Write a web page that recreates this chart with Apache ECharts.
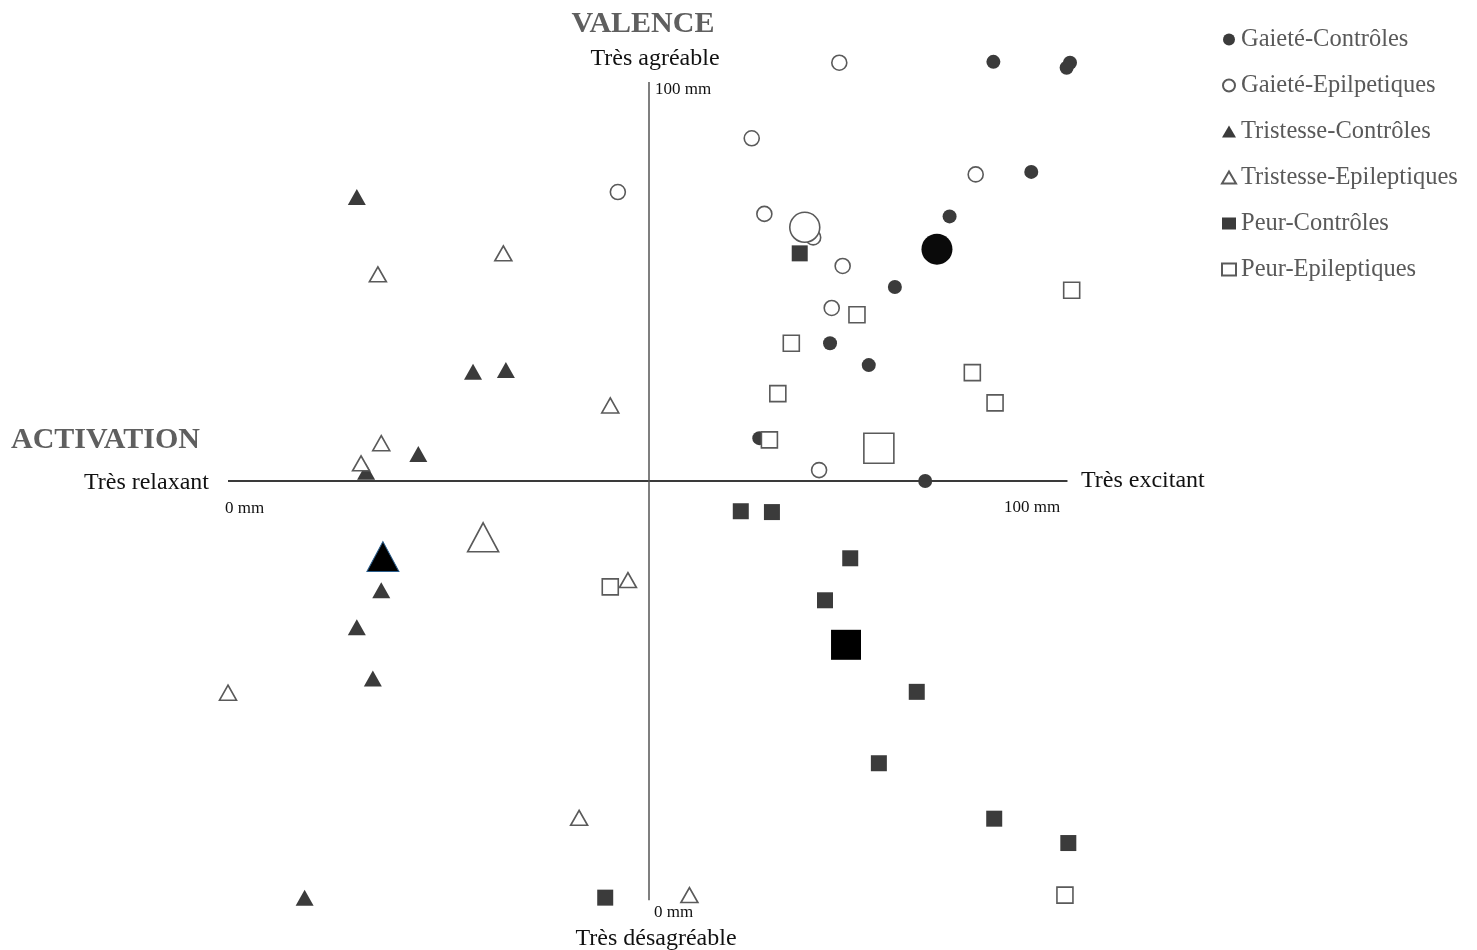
<!DOCTYPE html>
<html>
<head>
<meta charset="utf-8">
<title>Valence / Activation</title>
<script src="https://cdn.jsdelivr.net/npm/echarts@6/dist/echarts.min.js"></script>
<style>
    html, body { margin: 0; padding: 0; background: #fff; }
    #chart { width: 1477px; height: 950px; }
</style>
</head>
<body>
<div id="chart"></div>
<script>
// Activation (x, mm) and valence (y, mm) ratings per subject
const gaieteControlesX = [90.9, 100.0, 99.6, 95.4, 85.7, 79.2, 71.5, 76.1, 63.1, 82.8];
const gaieteControlesY = [99.9, 99.8, 99.2, 86.8, 81.5, 73.1, 66.4, 63.8, 55.1, 50.0];
const gaieteEpiX = [72.6, 62.2, 88.8, 46.3, 63.7, 69.5, 73.0, 71.7, 70.2];
const gaieteEpiY = [99.8, 90.8, 86.5, 84.4, 81.8, 79.0, 75.6, 70.6, 51.3];
const tristesseControlesX = [15.3, 29.1, 33.0, 22.6, 16.4, 18.2, 15.3, 17.2, 9.1];
const tristesseControlesY = [83.8, 63.0, 63.2, 53.2, 51.1, 37.0, 32.6, 26.5, 0.4];
const tristesseEpiX = [32.7, 17.8, 45.4, 18.2, 15.8, 47.5, 0.0, 41.7, 54.8];
const tristesseEpiY = [77.1, 74.6, 59.0, 54.5, 52.1, 38.2, 24.8, 9.9, 0.7];
const peurControlesX = [67.9, 60.9, 64.6, 73.9, 70.9, 81.8, 77.3, 91.0, 99.8, 44.8];
const peurControlesY = [77.1, 46.4, 46.3, 40.8, 35.8, 24.9, 16.4, 9.8, 6.9, 0.4];
const peurEpiX = [100.2, 74.7, 66.9, 88.4, 65.3, 91.1, 64.3, 45.4, 99.4];
const peurEpiY = [72.7, 69.8, 66.4, 62.9, 60.4, 59.3, 54.9, 37.4, 0.7];

// Group means [activation, valence]
const gaieteControlesMean = [84.2, 77.6];
const gaieteEpiMean = [68.5, 80.2];
const tristesseControlesMean = [18.4, 41.0];
const tristesseEpiMean = [30.3, 43.3];
const peurControlesMean = [73.4, 30.5];
const peurEpiMean = [77.3, 53.9];

const seriesNames = ['Gaieté-Contrôles', 'Gaieté-Epilpetiques', 'Tristesse-Contrôles',
    'Tristesse-Epileptiques', 'Peur-Contrôles', 'Peur-Epileptiques'];

const FONT = '"Liberation Serif", "Times New Roman", serif';
const DARK = '#3b3b3b';
const EDGE = '#5a5a5a';

function pairs(xs, ys) {
    return xs.map((x, i) => [x, ys[i]]);
}

// style for small and mean markers
function filled(symbol, size, color) {
    return { symbol: symbol, symbolSize: size, itemStyle: { color: color || DARK, opacity: 1 } };
}
function hollow(symbol, size) {
    return { symbol: symbol, symbolSize: size,
        itemStyle: { color: '#fff', borderColor: EDGE, borderWidth: 1.6, opacity: 1 } };
}

const groups = [
    { name: seriesNames[0], data: pairs(gaieteControlesX, gaieteControlesY), mean: gaieteControlesMean,
      small: filled('circle', 14), big: filled('circle', 31, '#0a0a0a') },
    { name: seriesNames[1], data: pairs(gaieteEpiX, gaieteEpiY), mean: gaieteEpiMean,
      small: hollow('circle', 15), big: hollow('circle', 30) },
    { name: seriesNames[2], data: pairs(tristesseControlesX, tristesseControlesY), mean: tristesseControlesMean,
      small: filled('triangle', [18, 16]),
      big: { symbol: 'triangle', symbolSize: [32, 30],
             itemStyle: { color: '#000', borderColor: '#2a5d8c', borderWidth: 1, opacity: 1 } } },
    { name: seriesNames[3], data: pairs(tristesseEpiX, tristesseEpiY), mean: tristesseEpiMean,
      small: hollow('triangle', [17, 15]), big: hollow('triangle', [31, 29]) },
    { name: seriesNames[4], data: pairs(peurControlesX, peurControlesY), mean: peurControlesMean,
      small: filled('rect', 16), big: filled('rect', 30, '#000') },
    { name: seriesNames[5], data: pairs(peurEpiX, peurEpiY), mean: peurEpiMean,
      small: hollow('rect', 16), big: hollow('rect', 30) }
];

const series = [];

// crossing axis lines drawn at 50 mm
series.push({
    type: 'scatter',
    name: 'axes',
    data: [],
    silent: true,
    markLine: {
        silent: true,
        symbol: 'none',
        label: { show: false },
        emphasis: { disabled: true },
        data: [
            [{ coord: [0, 50], lineStyle: { color: '#3a3a3a', width: 2.2, type: 'solid' } }, { coord: [99.7, 50] }],
            [{ coord: [50, 0.1], lineStyle: { color: '#555', width: 1.5, type: 'solid' } }, { coord: [50, 97.5] }]
        ]
    }
});

groups.forEach(g => {
    series.push(Object.assign({
        type: 'scatter',
        name: g.name,
        data: g.data,
        clip: false,
        emphasis: { disabled: true }
    }, g.small));
});
groups.forEach(g => {
    series.push(Object.assign({
        type: 'scatter',
        name: g.name + ' (moyenne)',
        data: [g.mean],
        clip: false,
        emphasis: { disabled: true }
    }, g.big));
});

function label(text, x, y, size, opts, weight) {
    return {
        type: 'text',
        x: x,
        y: y,
        silent: true,
        style: Object.assign({
            text: text,
            font: (weight ? weight + ' ' : '') + size + 'px ' + FONT,
            fill: '#111',
            align: 'left',
            verticalAlign: 'middle'
        }, opts || {})
    };
}

const chart = echarts.init(document.getElementById('chart'), null, { renderer: 'canvas' });

chart.setOption({
    backgroundColor: '#fff',
    animation: false,
    grid: { left: 228, top: 61, width: 842, height: 840, containLabel: false },
    xAxis: { type: 'value', min: 0, max: 100, show: false },
    yAxis: { type: 'value', min: 0, max: 100, show: false },
    legend: {
        data: seriesNames,
        orient: 'vertical',
        left: 1216,
        top: 22,
        itemWidth: 14,
        itemHeight: 12,
        itemGap: 21,
        selectedMode: false,
        textStyle: { fontFamily: FONT, fontSize: 24.5, color: '#595959', lineHeight: 24 }
    },
    graphic: [
        label('VALENCE', 643, 24, 30, { align: 'center', fill: '#5f5f5f' }, 'bold'),
        label('Très agréable', 655, 59, 24, { align: 'center' }),
        label('100 mm', 655, 90, 17),
        label('ACTIVATION', 11, 440, 30, { fill: '#5f5f5f' }, 'bold'),
        label('Très relaxant', 209, 483, 24, { align: 'right' }),
        label('0 mm', 225, 509, 17),
        label('Très excitant', 1081, 481, 24),
        label('100 mm', 1004, 508, 17),
        label('0 mm', 654, 913, 17),
        label('Très désagréable', 656, 939, 24, { align: 'center' })
    ],
    series: series
});

window.addEventListener('resize', () => chart.resize());
</script>
</body>
</html>
